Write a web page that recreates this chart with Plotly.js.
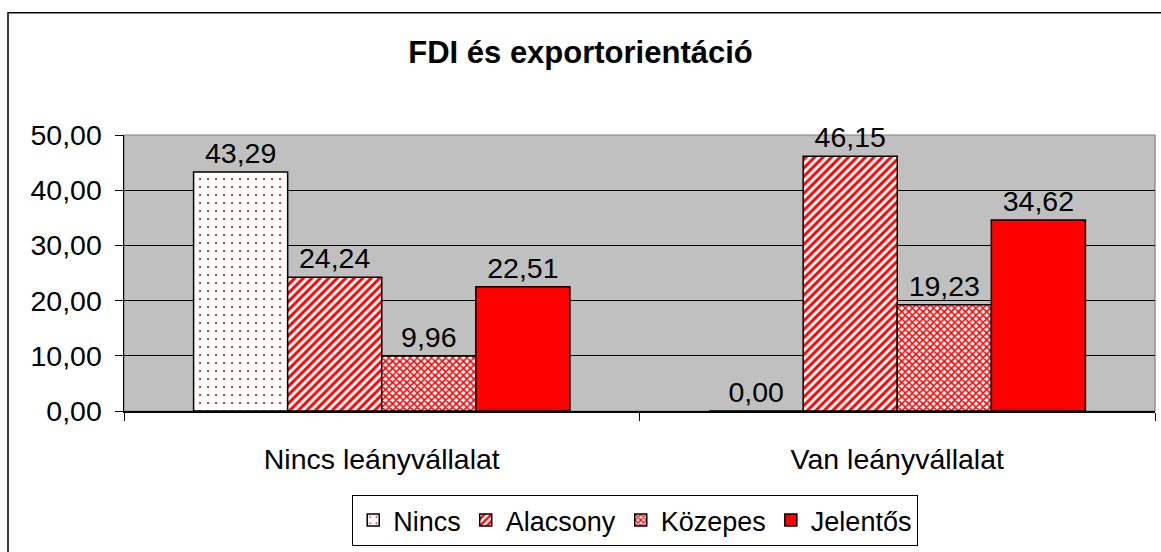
<!DOCTYPE html>
<html>
<head>
<meta charset="utf-8">
<script src="https://cdn.plot.ly/plotly-3.0.1.min.js"></script>
<style>html,body{margin:0;padding:0;background:#fff;}#chart{width:1161px;height:552px;}</style>
</head>
<body>
<div id="chart"></div>
<script>
const categories = ["Nincs leányvállalat", "Van leányvállalat"];
const seriesNames = ["Nincs", "Alacsony", "Közepes", "Jelentős"];
const nincs = [43.29, 0.00];
const alacsony = [24.24, 46.15];
const kozepes = [9.96, 19.23];
const jelentos = [22.51, 34.62];
const yTicks = [0, 10, 20, 30, 40, 50];

const FONT = "Liberation Sans, Arial, sans-serif";
const RED = "#ff0000";
const FS = 28.5;

function bar(name, values, pattern, color) {
  return {
    type: "bar",
    name: name,
    x: categories,
    y: values,
    marker: {
      color: color,
      line: {color: "#000000", width: 1.5},
      pattern: pattern
    },
    texttemplate: "%{y:.2f}",
    textposition: "outside",
    constraintext: "none",
    cliponaxis: false,
    textfont: {family: FONT, size: FS, color: "#000000"},
    hoverinfo: "skip"
  };
}

const data = [
  bar(seriesNames[0], nincs, {shape: ".", fgcolor: RED, bgcolor: "#ffffff", size: 8, solidity: 0.06}, "#ffffff"),
  bar(seriesNames[1], alacsony, {shape: "/", fgcolor: RED, bgcolor: "#ffffff", size: 6, solidity: 0.5}, "#ffffff"),
  bar(seriesNames[2], kozepes, {shape: "x", fgcolor: RED, bgcolor: "#ffffff", size: 5, solidity: 0.55}, "#ffffff"),
  bar(seriesNames[3], jelentos, {shape: ""}, RED)
];

const L = 124, R = 1155, T = 135, B = 415;
const W = R - L, H = B - T;
const px2x = p => (p - L) / W;
const py2y = p => (B - p) / H;

const layout = {
  width: 1161,
  height: 552,
  margin: {l: L, r: 1161 - R, t: T, b: 552 - B, pad: 0},
  paper_bgcolor: "#ffffff",
  plot_bgcolor: "#c0c0c0",
  separators: ", ",
  barmode: "group",
  bargap: 0.27,
  bargroupgap: 0,
  showlegend: true,
  font: {family: FONT, size: FS, color: "#000000"},
  title: {
    text: "<b>FDI és exportorientáció</b>",
    font: {family: FONT, size: 31, color: "#000000"},
    x: 0.5, xref: "container", xanchor: "center",
    y: 1 - 52 / 552, yref: "container", yanchor: "middle"
  },
  xaxis: {
    type: "category",
    showline: true, linecolor: "#000000", linewidth: 1.5,
    ticks: "outside", ticklen: 8, tickcolor: "#000000", tickwidth: 1,
    tickson: "boundaries",
    showgrid: false,
    ticklabelstandoff: 22,
    tickfont: {family: FONT, size: FS, color: "#000000"},
    fixedrange: true
  },
  yaxis: {
    range: [0, 50],
    tickvals: yTicks,
    tickformat: ".2f",
    showline: true, linecolor: "#000000", linewidth: 1.5,
    ticks: "outside", ticklen: 8, tickcolor: "#000000", tickwidth: 1,
    showgrid: true, gridcolor: "#000000", gridwidth: 1,
    zeroline: false,
    ticklabelstandoff: 7,
    tickfont: {family: FONT, size: FS, color: "#000000"},
    fixedrange: true
  },
  legend: {
    orientation: "h",
    x: px2x(635), xanchor: "center",
    y: py2y(500), yanchor: "top",
    bgcolor: "#ffffff",
    bordercolor: "#000000", borderwidth: 1.2,
    font: {family: FONT, size: 27, color: "#000000"},
    itemwidth: 30,
    itemclick: false, itemdoubleclick: false,
    traceorder: "normal"
  },
  shapes: [
    {type: "rect", xref: "paper", yref: "paper", x0: 0, x1: 1, y0: 0, y1: 1,
     line: {color: "#808080", width: 1.2}, fillcolor: "rgba(0,0,0,0)", layer: "below"},
    {type: "rect", xref: "paper", yref: "paper", x0: px2x(8), x1: px2x(1175), y0: py2y(11), y1: py2y(570),
     line: {color: "#000000", width: 1.5}, fillcolor: "rgba(0,0,0,0)", layer: "below"}
  ]
};

Plotly.newPlot("chart", data, layout, {displayModeBar: false, staticPlot: true});
</script>
</body>
</html>
